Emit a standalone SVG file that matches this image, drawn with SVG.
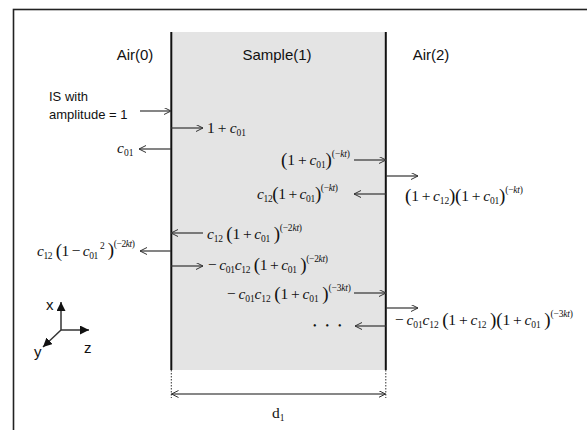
<svg xmlns="http://www.w3.org/2000/svg" width="587" height="430" viewBox="0 0 587 430">
<style>
.lbl{font-family:"Liberation Sans",Arial,sans-serif;font-size:15px;fill:#111}
.sm{font-size:13px}
.m{font-family:"Liberation Serif","Times New Roman",serif;font-size:15.5px;fill:#111}
.i{font-style:italic}
.s{font-size:9.5px}
.p{font-size:19px}
.arr{stroke:#333;stroke-width:1.2;fill:none;marker-end:url(#oa)}
.ax{stroke:#333;stroke-width:1.5;fill:none;marker-end:url(#fa)}
.dot{stroke:#333;stroke-width:1;stroke-dasharray:1.5 1.5;fill:none}
</style>
<defs>
<marker id="oa" markerUnits="userSpaceOnUse" markerWidth="9" markerHeight="9" refX="7" refY="3.5" orient="auto-start-reverse">
<path d="M0,0 L7,3.5 L0,7" fill="none" stroke="#333" stroke-width="1"/>
</marker>
<marker id="fa" markerUnits="userSpaceOnUse" markerWidth="11" markerHeight="11" refX="9" refY="4.5" orient="auto">
<path d="M0,0 L9,4.5 L0,9 z" fill="#111"/>
</marker>
</defs>
<rect width="587" height="430" fill="#fff"/>
<g id="frame"><rect x="13.5" y="9.5" width="620" height="460" fill="none" stroke="#222" stroke-width="1.6"/></g>
<g id="sample">
<rect x="171" y="32" width="215" height="338" fill="#e4e4e4"/>
<line x1="171.3" y1="32" x2="171.3" y2="370" stroke="#111" stroke-width="2"/>
<line x1="385.8" y1="32" x2="385.8" y2="370" stroke="#111" stroke-width="2"/>
<line class="dot" x1="171.3" y1="370" x2="171.3" y2="398"/>
<line class="dot" x1="385.8" y1="370" x2="385.8" y2="398"/>
</g>
<g id="region-labels">
<text class="lbl" x="135" y="60" text-anchor="middle">Air(0)</text>
<text class="lbl" x="277" y="60" text-anchor="middle">Sample(1)</text>
<text class="lbl" x="431" y="60" text-anchor="middle">Air(2)</text>
<text class="lbl sm" x="49" y="101">IS with</text>
<text class="lbl sm" x="49" y="119">amplitude = 1</text>
</g>
<g id="connectors">
<line class="arr" x1="140" y1="111" x2="171" y2="111"/>
<line class="arr" x1="171" y1="128" x2="203" y2="128"/>
<line class="arr" x1="171" y1="149" x2="139" y2="149"/>
<line class="arr" x1="354" y1="160" x2="386" y2="160"/>
<line class="arr" x1="386" y1="176" x2="418" y2="176"/>
<line class="arr" x1="386" y1="194" x2="354" y2="194"/>
<line class="arr" x1="203" y1="233" x2="171" y2="233"/>
<line class="arr" x1="171" y1="251" x2="140" y2="251"/>
<line class="arr" x1="171" y1="266" x2="203" y2="266"/>
<line class="arr" x1="354" y1="293" x2="386" y2="293"/>
<line class="arr" x1="386" y1="308" x2="418" y2="308"/>
<line class="arr" x1="386" y1="326" x2="355" y2="326"/>
<line x1="171.5" y1="394" x2="385.5" y2="394" stroke="#111" stroke-width="1.2" marker-start="url(#oa)" marker-end="url(#oa)"/>
</g>
<g id="math-labels">
<text id="t1" class="m" x="207" y="133" textLength="39">1&#8201;+&#8201;<tspan class="i">c</tspan><tspan class="s" dy="3">01</tspan></text>
<text id="t2" class="m" x="117" y="153"><tspan class="i">c</tspan><tspan class="s" dy="3">01</tspan></text>
<text id="t3" class="m" x="281" y="165" textLength="69"><tspan class="p" dy="1">(</tspan><tspan dy="-1">1&#8201;+&#8201;</tspan><tspan class="i">c</tspan><tspan class="s" dy="3">01</tspan><tspan class="p" dy="-2">)</tspan><tspan class="s" dy="-9">(−<tspan class="i">kt</tspan>)</tspan></text>
<text id="t4" class="m" x="257" y="199" textLength="81"><tspan class="i">c</tspan><tspan class="s" dy="3">12</tspan><tspan class="p" dy="-2">(</tspan><tspan dy="-1">1&#8201;+&#8201;</tspan><tspan class="i">c</tspan><tspan class="s" dy="3">01</tspan><tspan class="p" dy="-2">)</tspan><tspan class="s" dy="-9">(−<tspan class="i">kt</tspan>)</tspan></text>
<text id="t5" class="m" x="405" y="201" textLength="118"><tspan class="p" dy="1">(</tspan><tspan dy="-1">1&#8201;+&#8201;</tspan><tspan class="i">c</tspan><tspan class="s" dy="3">12</tspan><tspan class="p" dy="-2">)(</tspan><tspan dy="-1">1&#8201;+&#8201;</tspan><tspan class="i">c</tspan><tspan class="s" dy="3">01</tspan><tspan class="p" dy="-2">)</tspan><tspan class="s" dy="-9">(−<tspan class="i">kt</tspan>)</tspan></text>
<text id="t6" class="m" x="207" y="239" textLength="95"><tspan class="i">c</tspan><tspan class="s" dy="3">12</tspan><tspan class="p" dy="-2">&#8201;(</tspan><tspan dy="-1">1&#8201;+&#8201;</tspan><tspan class="i">c</tspan><tspan class="s" dy="3">01</tspan><tspan class="p" dy="-2">&#8201;)</tspan><tspan class="s" dy="-9">(−2<tspan class="i">kt</tspan>)</tspan></text>
<text id="t7" class="m" x="37" y="256" textLength="98"><tspan class="i">c</tspan><tspan class="s" dy="3">12</tspan><tspan class="p" dy="-2">&#8201;(</tspan><tspan dy="-1">1&#8201;−&#8201;</tspan><tspan class="i">c</tspan><tspan class="s" dy="3">01</tspan><tspan class="s" dx="2" dy="-10">2</tspan><tspan class="p" dy="7">&#8201;)</tspan><tspan class="s" dy="-9">(−2<tspan class="i">kt</tspan>)</tspan></text>
<text id="t8" class="m" x="208" y="270" textLength="120">−&#8201;<tspan class="i">c</tspan><tspan class="s" dy="3">01</tspan><tspan class="i" dy="-3">c</tspan><tspan class="s" dy="3">12</tspan><tspan class="p" dy="-2">&#8201;(</tspan><tspan dy="-1">1&#8201;+&#8201;</tspan><tspan class="i">c</tspan><tspan class="s" dy="3">01</tspan><tspan class="p" dy="-2">&#8201;)</tspan><tspan class="s" dy="-9">(−2<tspan class="i">kt</tspan>)</tspan></text>
<text id="t9" class="m" x="227" y="299" textLength="124">−&#8201;<tspan class="i">c</tspan><tspan class="s" dy="3">01</tspan><tspan class="i" dy="-3">c</tspan><tspan class="s" dy="3">12</tspan><tspan class="p" dy="-2">&#8201;(</tspan><tspan dy="-1">1&#8201;+&#8201;</tspan><tspan class="i">c</tspan><tspan class="s" dy="3">01</tspan><tspan class="p" dy="-2">&#8201;)</tspan><tspan class="s" dy="-9">(−3<tspan class="i">kt</tspan>)</tspan></text>
<text id="t10" class="m" x="395" y="325" textLength="178">−&#8201;<tspan class="i">c</tspan><tspan class="s" dy="3">01</tspan><tspan class="i" dy="-3">c</tspan><tspan class="s" dy="3">12</tspan><tspan class="p" dy="-2">&#8201;(</tspan><tspan dy="-1">1&#8201;+&#8201;</tspan><tspan class="i">c</tspan><tspan class="s" dy="3">12</tspan><tspan class="p" dy="-2">&#8201;)(</tspan><tspan dy="-1">1&#8201;+&#8201;</tspan><tspan class="i">c</tspan><tspan class="s" dy="3">01</tspan><tspan class="p" dy="-2">&#8201;)</tspan><tspan class="s" dy="-9">(−3<tspan class="i">kt</tspan>)</tspan></text>
<text id="dots" class="m" x="313" y="329" style="font-size:10px;letter-spacing:9px">•••</text>
<text id="d1" class="m" x="272" y="418">d<tspan class="s" dy="3">1</tspan></text>
</g>
<g id="axes">
<line class="ax" x1="61" y1="330" x2="61" y2="302"/>
<line class="ax" x1="61" y1="330" x2="89" y2="330"/>
<line class="ax" x1="61" y1="330" x2="43" y2="347"/>
<text class="lbl" x="46" y="310">x</text>
<text class="lbl" x="84" y="353">z</text>
<text class="lbl" x="34" y="357">y</text>
</g>
</svg>
